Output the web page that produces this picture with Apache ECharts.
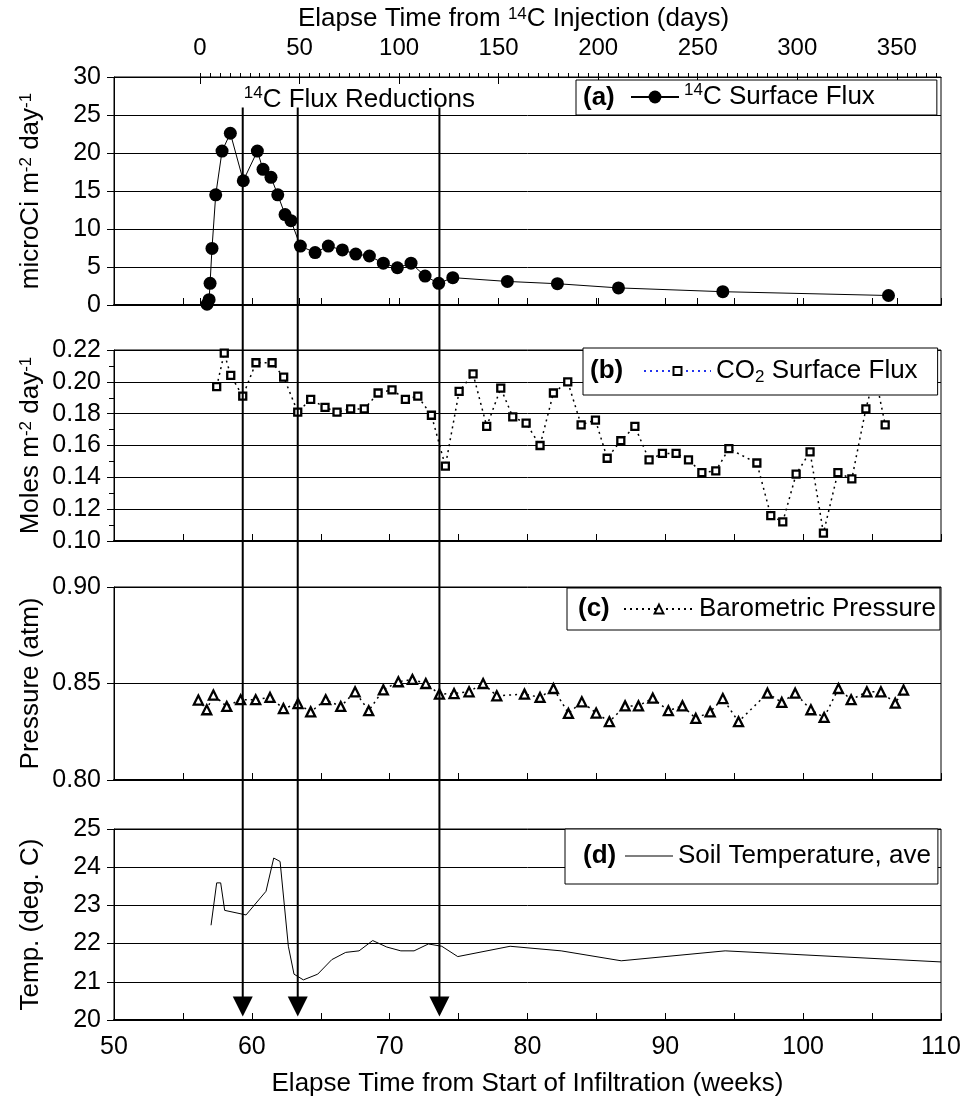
<!DOCTYPE html>
<html>
<head>
<meta charset="utf-8">
<script src="https://cdn.jsdelivr.net/npm/echarts@6/dist/echarts.min.js"></script>
<style>
html, body { margin: 0; padding: 0; background: #fff; }
#main { width: 971px; height: 1108px; }
</style>
</head>
<body>
<div id="main"></div>
<script>
// weeks since start of infiltration (bottom axis) for each panel
var weeksA = [56.75, 56.9, 56.97, 57.11, 57.38, 57.84, 58.44, 59.38, 60.4, 60.81, 61.39, 61.88, 62.41, 62.84, 63.52, 64.59, 65.55, 66.57, 67.54, 68.53, 69.54, 70.56, 71.55, 72.57, 73.56, 74.58, 78.54, 82.17, 86.6, 94.17, 106.19];
var fluxA = [0.1, 0.7, 2.85, 7.45, 14.5, 20.25, 22.6, 16.35, 20.25, 17.85, 16.8, 14.5, 11.9, 11.1, 7.75, 6.9, 7.75, 7.25, 6.7, 6.45, 5.5, 4.9, 5.5, 3.8, 2.85, 3.6, 3.1, 2.8, 2.25, 1.75, 1.25];

var weeksB = [57.45, 58.0, 58.47, 59.34, 60.3, 61.47, 62.31, 63.33, 64.27, 65.31, 66.18, 67.17, 68.16, 69.16, 70.17, 71.14, 72.04, 73.03, 74.04, 75.04, 76.05, 77.04, 78.06, 78.93, 79.9, 80.91, 81.88, 82.92, 83.89, 84.93, 85.78, 86.77, 87.79, 88.82, 89.79, 90.78, 91.68, 92.65, 93.66, 94.61, 96.64, 97.65, 98.52, 99.49, 100.5, 101.47, 102.52, 103.53, 104.55, 105.2, 105.95];
var co2B = [0.197, 0.218, 0.204, 0.191, 0.212, 0.212, 0.203, 0.181, 0.189, 0.184, 0.181, 0.183, 0.183, 0.193, 0.195, 0.189, 0.191, 0.179, 0.147, 0.194, 0.205, 0.172, 0.196, 0.178, 0.174, 0.160, 0.193, 0.200, 0.173, 0.176, 0.152, 0.163, 0.172, 0.151, 0.155, 0.155, 0.151, 0.143, 0.144, 0.158, 0.149, 0.116, 0.112, 0.142, 0.156, 0.105, 0.143, 0.139, 0.183, 0.205, 0.173];

var weeksC = [56.12, 56.73, 57.21, 58.18, 59.19, 60.28, 61.32, 62.29, 63.35, 64.27, 65.36, 66.45, 67.49, 68.48, 69.54, 70.63, 71.65, 72.62, 73.61, 74.67, 75.76, 76.78, 77.77, 79.78, 80.91, 81.88, 82.97, 83.94, 84.98, 85.94, 87.08, 88.05, 89.09, 90.22, 91.24, 92.21, 93.25, 94.17, 95.31, 97.41, 98.45, 99.42, 100.56, 101.52, 102.56, 103.48, 104.62, 105.64, 106.68, 107.28];
var pressC = [0.8414, 0.8364, 0.844, 0.8381, 0.8416, 0.8416, 0.8428, 0.837, 0.8396, 0.8353, 0.8416, 0.8381, 0.8457, 0.8359, 0.8467, 0.8509, 0.8521, 0.85, 0.8445, 0.8448, 0.8457, 0.85, 0.8436, 0.8445, 0.8428, 0.8474, 0.8345, 0.8405, 0.8347, 0.8302, 0.8384, 0.8384, 0.8424, 0.8359, 0.8384, 0.8319, 0.8353, 0.8422, 0.8302, 0.845, 0.8402, 0.845, 0.8364, 0.8324, 0.8474, 0.8416, 0.8457, 0.8457, 0.8398, 0.8466];

var weeksD = [57.04, 57.45, 57.74, 58.03, 59.58, 61.03, 61.59, 62.05, 62.65, 63.06, 63.74, 64.78, 65.8, 66.81, 67.78, 68.77, 69.79, 70.81, 71.77, 72.81, 73.78, 74.94, 78.74, 82.44, 86.8, 94.34, 110];
var tempD = [22.48, 23.59, 23.59, 22.87, 22.75, 23.37, 24.24, 24.15, 21.93, 21.2, 21.05, 21.2, 21.58, 21.77, 21.81, 22.08, 21.91, 21.81, 21.81, 21.99, 21.93, 21.66, 21.93, 21.81, 21.55, 21.81, 21.52];

// 14C flux reduction arrows (weeks)
var arrowWeeks = [59.34, 63.33, 73.61];

// top axis (days since 14C injection)
var dayLabels = [0, 50, 100, 150, 200, 250, 300, 350];
var dayMin = -43.2, dayMax = 372.2;
var dayMinorTicks = [];
for (var d = 0; d <= 370; d += 5) dayMinorTicks.push(d);

var FONT = '"Liberation Sans", Arial, sans-serif';

function zip(xs, ys) {
    return xs.map(function (x, i) { return [x, ys[i]]; });
}

var supStyle = { fontSize: 17, lineHeight: 17, verticalAlign: 'top', fontFamily: FONT, color: '#000' };
var subStyle = { fontSize: 17, lineHeight: 17, verticalAlign: 'bottom', fontFamily: FONT, color: '#000' };

var legendText = {
    flux14: '{s|14}C Surface Flux',
    co2: 'CO{b|2} Surface Flux',
    baro: 'Barometric Pressure',
    temp: 'Soil Temperature, ave'
};

var gridPos = [
    { top: 77, height: 228 },
    { top: 350, height: 191 },
    { top: 587, height: 193 },
    { top: 829, height: 191 }
];

var chart = echarts.init(document.getElementById('main'), null, { renderer: 'canvas' });

function bottomAxis(i) {
    return {
        type: 'value', gridIndex: i, position: 'bottom',
        min: 50, max: 110, interval: 5,
        axisLine: { show: true, onZero: false, lineStyle: { color: '#000', width: 2 } },
        axisTick: { show: true, inside: true, length: 7, lineStyle: { color: '#000', width: 1 } },
        axisLabel: {
            show: i === 3, fontSize: 25, color: '#000', fontFamily: FONT, margin: 15,
            formatter: function (v) { return v % 10 === 0 ? String(v) : ''; }
        },
        splitLine: { show: false },
        name: i === 3 ? 'Elapse Time from Start of Infiltration (weeks)' : '',
        nameLocation: 'middle', nameGap: 51, nameMoveOverlap: false,
        nameTextStyle: { fontSize: 26, color: '#000', fontFamily: FONT }
    };
}

function leftAxis(i, min, max, interval, name, digits, minor) {
    return {
        type: 'value', gridIndex: i, min: min, max: max, interval: interval,
        axisLine: { show: true, onZero: false, lineStyle: { color: '#000', width: 1 } },
        axisTick: { show: true, inside: false, length: 7, lineStyle: { color: '#000', width: 1 } },
        minorTick: { show: !!minor, splitNumber: 2, length: 5, lineStyle: { color: '#000', width: 1 } },
        axisLabel: {
            fontSize: 25, color: '#000', fontFamily: FONT, margin: 13,
            formatter: function (v) { return v.toFixed(digits); }
        },
        splitLine: { show: true, lineStyle: { color: '#000', width: 1 } },
        name: name, nameLocation: 'middle', nameRotate: 90, nameGap: 70, nameMoveOverlap: false,
        nameTextStyle: { fontSize: 26, color: '#000', fontFamily: FONT, rich: { s: supStyle } }
    };
}

function legendBox(name, left, top, padding, itemWidth, itemHeight, extra) {
    var item = { name: name };
    if (extra) Object.assign(item, extra);
    return {
        data: [item], left: left, top: top, orient: 'horizontal',
        padding: padding, itemWidth: itemWidth, itemHeight: itemHeight, itemGap: 0,
        backgroundColor: '#fff', borderColor: '#000', borderWidth: 1, borderRadius: 0,
        selectedMode: false,
        formatter: function (n) { return legendText[n]; },
        textStyle: {
            fontSize: 26, lineHeight: 30, color: '#000', fontFamily: FONT,
            rich: { s: supStyle, b: subStyle }
        }
    };
}

var option = {
    animation: false,
    backgroundColor: '#fff',
    textStyle: { fontFamily: FONT },
    grid: gridPos.map(function (g) {
        return {
            left: 114, right: 30, top: g.top, height: g.height,
            show: true, borderColor: '#000', borderWidth: 1, backgroundColor: 'transparent',
            containLabel: false, outerBoundsMode: 'none'
        };
    }),
    xAxis: [
        bottomAxis(0), bottomAxis(1), bottomAxis(2), bottomAxis(3),
        {
            type: 'value', gridIndex: 0, position: 'top', min: dayMin, max: dayMax,
            axisLine: { show: true, onZero: false, lineStyle: { color: '#000', width: 1 } },
            axisTick: { show: true, customValues: dayMinorTicks, length: 4, lineStyle: { color: '#000' } },
            axisLabel: { show: true, customValues: dayLabels, fontSize: 24, color: '#000', fontFamily: FONT, margin: 17 },
            splitLine: { show: false },
            name: 'Elapse Time from {s|14}C Injection (days)',
            nameLocation: 'middle', nameGap: 45, nameMoveOverlap: false,
            nameTextStyle: { fontSize: 26, color: '#000', fontFamily: FONT, padding: [0, 28, 0, 0], rich: { s: supStyle } }
        },
        {
            type: 'value', gridIndex: 0, position: 'top', min: dayMin, max: dayMax,
            axisLine: { show: false }, axisLabel: { show: false }, splitLine: { show: false },
            axisTick: { show: true, customValues: dayLabels, length: 7, lineStyle: { color: '#000' } }
        },
        {
            type: 'value', gridIndex: 0, position: 'top', min: dayMin, max: dayMax,
            axisLine: { show: false }, axisLabel: { show: false }, splitLine: { show: false },
            axisTick: { show: true, inside: true, customValues: dayLabels, length: 7, lineStyle: { color: '#000' } }
        }
    ],
    yAxis: [
        leftAxis(0, 0, 30, 5, 'microCi m{s|-2} day{s|-1}', 0, false),
        leftAxis(1, 0.10, 0.22, 0.02, 'Moles m{s|-2} day{s|-1}', 2, true),
        leftAxis(2, 0.80, 0.90, 0.05, 'Pressure (atm)', 2, false),
        leftAxis(3, 20, 25, 1, 'Temp. (deg. C)', 0, false)
    ],
    legend: [
        legendBox('flux14', 576, 80, [2, 62, 3, 54], 48, 16),
        legendBox('co2', 583, 348, [8, 20, 9, 60], 67, 10, { lineStyle: { color: '#2233ee' } }),
        legendBox('baro', 567, 588, [6, 4, 6, 56], 70, 11),
        legendBox('temp', 565, 829, [12, 7, 13, 60], 48, 14, { icon: 'path://M0 0H100V2H0Z' })
    ],
    series: [
        {
            name: 'flux14', type: 'line', xAxisIndex: 0, yAxisIndex: 0,
            data: zip(weeksA, fluxA),
            symbol: 'circle', symbolSize: 13,
            itemStyle: { color: '#000' },
            lineStyle: { color: '#000', width: 1 }
        },
        {
            name: 'co2', type: 'line', xAxisIndex: 1, yAxisIndex: 1,
            data: zip(weeksB, co2B),
            symbol: 'rect', symbolSize: 7,
            itemStyle: { color: '#fff', borderColor: '#000', borderWidth: 2.3 },
            lineStyle: { color: '#000', width: 1.5, type: [2, 4] }
        },
        {
            name: 'baro', type: 'line', xAxisIndex: 2, yAxisIndex: 2,
            data: zip(weeksC, pressC),
            symbol: 'triangle', symbolSize: 9,
            itemStyle: { color: '#fff', borderColor: '#000', borderWidth: 2.3 },
            lineStyle: { color: '#000', width: 1.5, type: [2, 4] }
        },
        {
            name: 'temp', type: 'line', xAxisIndex: 3, yAxisIndex: 3,
            data: zip(weeksD, tempD),
            showSymbol: false, symbol: 'none',
            itemStyle: { color: '#000' },
            lineStyle: { color: '#000', width: 1 }
        }
    ]
};

chart.setOption(option);

// arrows and annotations placed through the axes' own scales
var yTop = chart.convertToPixel({ yAxisIndex: 0 }, 26);
var yTip = chart.convertToPixel({ yAxisIndex: 3 }, 20.09);
var graphics = [];
arrowWeeks.forEach(function (w) {
    var x = chart.convertToPixel({ xAxisIndex: 3 }, w);
    graphics.push({
        type: 'line', z: 100,
        shape: { x1: x, y1: yTop, x2: x, y2: yTip - 18 },
        style: { stroke: '#000', lineWidth: 2 }
    });
    graphics.push({
        type: 'polygon', z: 100,
        shape: { points: [[x - 10, yTip - 20], [x + 10, yTip - 20], [x, yTip]] },
        style: { fill: '#000' }
    });
});
var textX = chart.convertToPixel({ xAxisIndex: 0 }, arrowWeeks[0]);
var textY = chart.convertToPixel({ yAxisIndex: 0 }, 27);
graphics.push({
    type: 'text', z: 101, x: textX + 1, y: textY,
    style: {
        text: '{s|14}C Flux Reductions', fontSize: 26, fontFamily: FONT, fill: '#000',
        verticalAlign: 'middle', lineHeight: 30, rich: { s: supStyle }
    }
});
[['(a)', 583, 97.5], ['(b)', 590, 371], ['(c)', 578, 609], ['(d)', 583, 856]].forEach(function (t) {
    graphics.push({
        type: 'text', z: 110, x: t[1], y: t[2],
        style: { text: t[0], fontSize: 26, fontWeight: 'bold', fontFamily: FONT, fill: '#000', verticalAlign: 'middle' }
    });
});
chart.setOption({ graphic: graphics });
</script>
</body>
</html>
